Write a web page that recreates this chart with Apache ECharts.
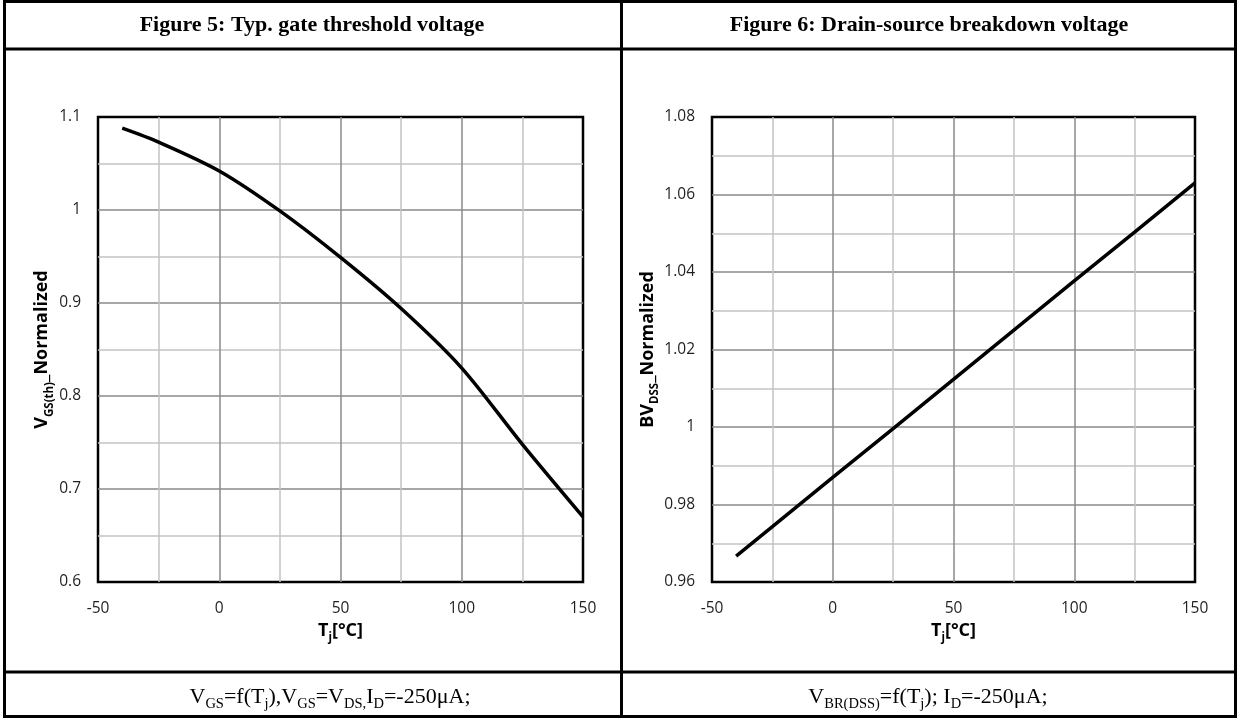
<!DOCTYPE html>
<html>
<head>
<meta charset="utf-8">
<script src="https://cdn.jsdelivr.net/npm/echarts@6/dist/echarts.min.js"></script>
<style>
html,body{margin:0;padding:0;background:#fff;}
#c{width:1239px;height:719px;}
</style>
</head>
<body>
<div id="c"></div>
<script>
// Figure 5 data
const tempsFig5 = [-40, -25, 0, 25, 50, 75, 100, 125, 150];
const vgsthNorm = [1.088, 1.073, 1.042, 0.999, 0.949, 0.894, 0.830, 0.748, 0.670];
// Figure 6 data
const tempsFig6 = [-40, -25, 0, 25, 50, 75, 100, 125, 150];
const bvdssNorm = [0.9667, 0.9743, 0.9870, 0.9996, 1.0123, 1.0250, 1.0377, 1.0503, 1.0630];

const titles = ['Figure 5: Typ. gate threshold voltage', 'Figure 6: Drain-source breakdown voltage'];

const chart = echarts.init(document.getElementById('c'), null, {renderer: 'canvas'});

const tickFont = '"Open Sans", "Liberation Sans", sans-serif';
const serif = '"Liberation Serif", "DejaVu Serif", serif';

const nameRich = {
  n: {fontSize: 18, fontWeight: 'bold', fontFamily: tickFont, color: '#000', lineHeight: 24, verticalAlign: 'bottom'},
  s: {fontSize: 11.5, fontWeight: 'bold', fontFamily: tickFont, color: '#000', lineHeight: 24, verticalAlign: 'bottom', padding: [0, 0, -4, 0]}
};

function xAxisCfg(gridIndex) {
  return {
    type: 'value', gridIndex: gridIndex, min: -50, max: 150, interval: 50,
    axisLine: {show: false}, axisTick: {show: false},
    axisLabel: {margin: 19, fontSize: 15.5, color: '#1f1f1f', fontFamily: tickFont},
    splitLine: {show: true, showMinLine: false, showMaxLine: false, lineStyle: {color: '#8a8a8a', width: 1.5}},
    minorTick: {show: false, splitNumber: 2},
    minorSplitLine: {show: true, lineStyle: {color: '#c4c4c4', width: 1.5}},
    name: '{n|T}{s|j}{n|[°C]}', nameLocation: 'middle', nameGap: 33,
    nameTextStyle: {rich: nameRich}
  };
}

function yAxisCfg(gridIndex, min, max, interval, nameStr, gap) {
  return {
    type: 'value', gridIndex: gridIndex, min: min, max: max, interval: interval,
    axisLine: {show: false}, axisTick: {show: false},
    axisLabel: {margin: 17, fontSize: 15.5, color: '#1f1f1f', fontFamily: tickFont},
    splitLine: {show: true, showMinLine: false, showMaxLine: false, lineStyle: {color: '#8a8a8a', width: 1.5}},
    minorTick: {show: false, splitNumber: 2},
    minorSplitLine: {show: true, lineStyle: {color: '#c4c4c4', width: 1.5}},
    name: nameStr, nameLocation: 'middle', nameGap: gap, nameRotate: 90,
    nameTextStyle: {rich: nameRich}
  };
}

const capRich = {
  n: {fontSize: 22, fontFamily: serif, color: '#000', lineHeight: 28, verticalAlign: 'bottom'},
  s: {fontSize: 14.5, fontFamily: serif, color: '#000', lineHeight: 28, verticalAlign: 'bottom', padding: [0, 0, -4, 0]}
};

const lineW = 3;
const option = {
  backgroundColor: '#fff',
  animation: false,
  grid: [
    {left: 98, top: 117, width: 485, height: 465, show: true, borderColor: '#000', borderWidth: 2.5, backgroundColor: 'transparent'},
    {left: 712, top: 117, width: 483, height: 465, show: true, borderColor: '#000', borderWidth: 2.5, backgroundColor: 'transparent'}
  ],
  xAxis: [xAxisCfg(0), xAxisCfg(1)],
  yAxis: [
    yAxisCfg(0, 0.6, 1.1, 0.1, '{n|V}{s|GS(th)}{n|_Normalized}', 43),
    yAxisCfg(1, 0.96, 1.08, 0.02, '{n|BV}{s|DSS}{n|_Normalized}', 41)
  ],
  series: [
    {type: 'line', xAxisIndex: 0, yAxisIndex: 0, data: tempsFig5.map((t, i) => [t, vgsthNorm[i]]),
     showSymbol: false, smooth: 0.3, lineStyle: {color: '#000', width: 3.5}, z: 5},
    {type: 'line', xAxisIndex: 1, yAxisIndex: 1, data: tempsFig6.map((t, i) => [t, bvdssNorm[i]]),
     showSymbol: false, smooth: false, lineStyle: {color: '#000', width: 3.5}, z: 5}
  ],
  graphic: [
    {type: 'rect', shape: {x: 4.5, y: 1.5, width: 1231, height: 715}, style: {fill: 'none', stroke: '#000', lineWidth: lineW}, silent: true},
    {type: 'line', shape: {x1: 621.5, y1: 1, x2: 621.5, y2: 717}, style: {stroke: '#000', lineWidth: lineW}, silent: true},
    {type: 'line', shape: {x1: 4, y1: 49, x2: 1236, y2: 49}, style: {stroke: '#000', lineWidth: lineW}, silent: true},
    {type: 'line', shape: {x1: 4, y1: 672, x2: 1236, y2: 672}, style: {stroke: '#000', lineWidth: lineW}, silent: true},
    {type: 'text', x: 312, y: 25, style: {text: titles[0], font: 'bold 22px ' + serif, fill: '#000', textAlign: 'center', textVerticalAlign: 'middle'}},
    {type: 'text', x: 929, y: 25, style: {text: titles[1], font: 'bold 22px ' + serif, fill: '#000', textAlign: 'center', textVerticalAlign: 'middle'}},
    {type: 'text', x: 330, y: 694, style: {text: '{n|V}{s|GS}{n|=f(T}{s|j}{n|),V}{s|GS}{n|=V}{s|DS,}{n|I}{s|D}{n|=-250μA;}', rich: capRich, textAlign: 'center', textVerticalAlign: 'middle'}},
    {type: 'text', x: 928, y: 694, style: {text: '{n|V}{s|BR(DSS)}{n|=f(T}{s|j}{n|); I}{s|D}{n|=-250μA;}', rich: capRich, textAlign: 'center', textVerticalAlign: 'middle'}}
  ]
};
chart.setOption(option);
</script>
</body>
</html>
